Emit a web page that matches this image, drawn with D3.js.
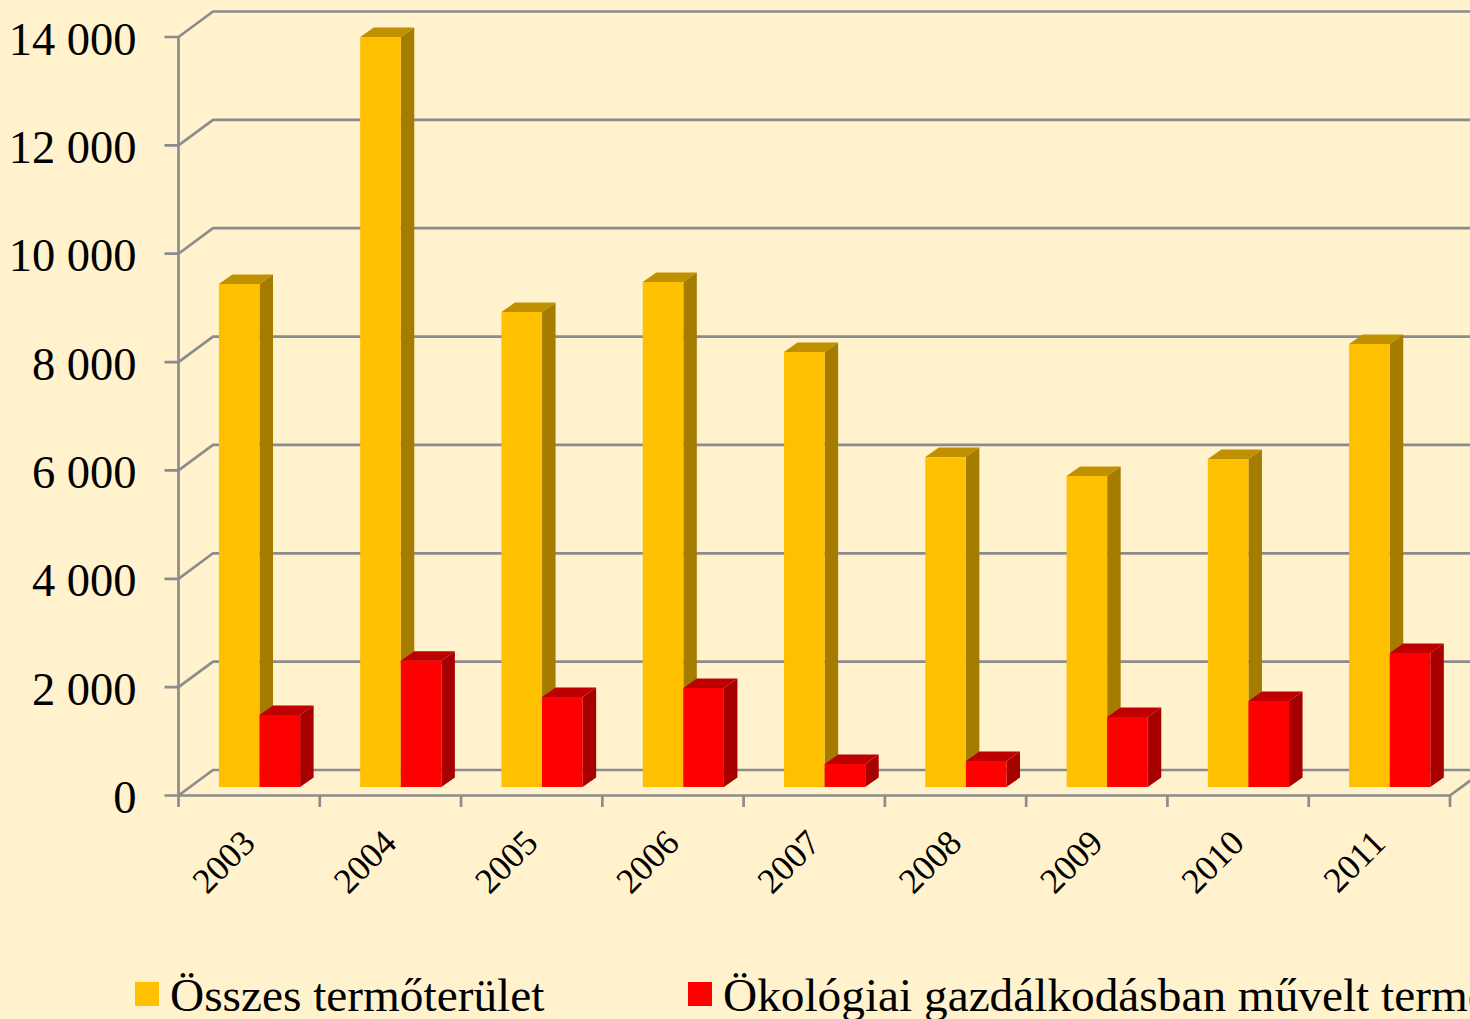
<!DOCTYPE html>
<html><head><meta charset="utf-8">
<script src="https://cdn.jsdelivr.net/npm/d3@7"></script>
<style>html,body{margin:0;padding:0;background:#FFF2CC;overflow:hidden}svg{display:block}text{font-family:"Liberation Serif",serif;fill:#000}</style>
</head><body><svg id="c" width="1470" height="1019"></svg>
<script>
const years=["2003","2004","2005","2006","2007","2008","2009","2010","2011"];
const total=[9284,13843,8767,9321,8029,6091,5740,6054,8177];
const organic=[1329,2331,1661,1827,425,480,1292,1587,2473];
const yTicks=[0,2000,4000,6000,8000,10000,12000,14000];
const yLabels=["0","2 000","4 000","6 000","8 000","10 000","12 000","14 000"];
const seriesNames=["Összes termőterület","Ökológiai gazdálkodásban művelt termőterület"];
const faces=[{front:"#FFC000",side:"#A67C00",top:"#BF9000"},{front:"#FF0000",side:"#A60000",top:"#BF0000"}];

const W=1470,H=1019;
const svg=d3.select("#c");
svg.append("rect").attr("width",W).attr("height",H).attr("fill","#FFF2CC");
const x=d3.scaleBand().domain(years).range([178.5,1450]);
const y=d3.scaleLinear().domain([0,14000]).range([795.5,37]);
const gridColor="#8C8C8C";
const wallDx=34.5,wallDy=25.5;   // back wall offset
const barLift=8.5;               // bar front sits slightly behind the floor's front edge
const dx=13.5,dy=9.5;            // bar depth
const barW=40.6;

const g=svg.append("g").attr("fill","none").attr("stroke",gridColor).attr("stroke-width",2.7);
// walls / gridlines
yTicks.forEach(t=>{
  g.append("path").attr("d",`M164.5,${y(t)}H${x.range()[0]}L${x.range()[0]+wallDx},${y(t)-wallDy}H1480`);
});
g.append("path").attr("d",`M178.5,${y(14000)}V${y(0)}H1450L${1450+wallDx},${y(0)-wallDy}`);
years.concat("end").forEach((d,i)=>{
  const px=x.range()[0]+i*x.step();
  g.append("path").attr("d",`M${px},${y(0)}V807`);
});

// bars
function bar(sel,px,v,c){
  const y0=y(0)-barLift, yt=y(v)-barLift;
  sel.append("path").attr("fill",c.side).attr("d",`M${px+barW},${yt}l${dx},${-dy}V${y0-dy}l${-dx},${dy}Z`);
  sel.append("path").attr("fill",c.top).attr("d",`M${px},${yt}l${dx},${-dy}h${barW}l${-dx},${dy}Z`);
  sel.append("rect").attr("fill",c.front).attr("x",px).attr("y",yt).attr("width",barW).attr("height",y0-yt);
}
const bars=svg.append("g");
years.forEach((d,i)=>{
  const px=x(d)+40.4;
  bar(bars,px,total[i],faces[0]);
  bar(bars,px+barW,organic[i],faces[1]);
});

// y labels
svg.append("g").selectAll("text").data(yTicks).join("text")
  .attr("x",136.5).attr("y",t=>y(t)+17.5).attr("text-anchor","end")
  .attr("font-size",46.5).text((t,i)=>yLabels[i]);

// x labels
svg.append("g").selectAll("text").data(years).join("text")
  .attr("text-anchor","end").attr("font-size",35.5)
  .attr("transform",d=>`translate(${x(d)+x.bandwidth()/2+8},${845}) rotate(-45)`)
  .text(d=>d);

// legend (the second entry runs off the right edge, as in the reference)
[135,688].forEach((lx,i)=>{
  svg.append("rect").attr("x",lx).attr("y",982).attr("width",24).attr("height",24).attr("fill",faces[i].front);
  svg.append("text").attr("x",lx+35).attr("y",1011).attr("font-size",47.3).text(seriesNames[i]);
});
</script></body></html>
